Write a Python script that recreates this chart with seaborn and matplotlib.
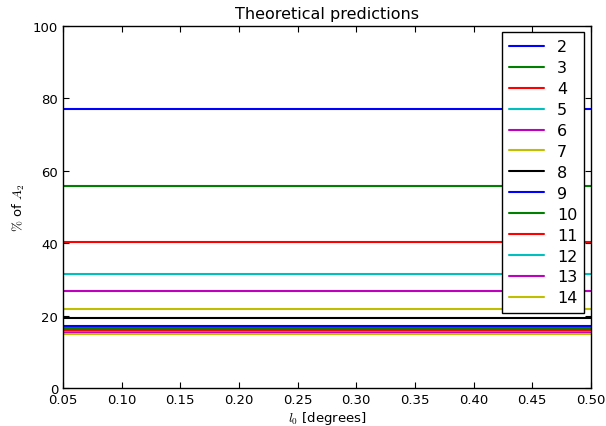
import matplotlib
matplotlib.use("Agg")
import matplotlib.pyplot as plt
import seaborn as sns
import numpy as np
import pandas as pd

# number of components and predicted share of A_2 (%)
n_values = ["2", "3", "4", "5", "6", "7", "8", "9", "10", "11", "12", "13", "14"]
share_a2 = [77.1, 55.8, 40.3, 31.5, 26.7, 21.8, 19.3, 17.1, 16.6, 16.1, 15.6, 15.2, 14.9]
l0_deg = [0.05, 0.50]
colours = ["b", "g", "r", "c", "m", "y", "k"]

sns.set_style("ticks")
plt.rcParams["mathtext.fontset"] = "cm"
plt.rcParams["font.family"] = ["DejaVu Sans"]
for key in ["text.color", "axes.labelcolor", "xtick.color", "ytick.color"]:
    plt.rcParams[key] = "black"

rows = []
for n, share in zip(n_values, share_a2):
    for l0 in l0_deg:
        rows.append({"l0": l0, "share": share, "n": n})
df = pd.DataFrame(rows)

palette = [colours[i % len(colours)] for i in range(len(n_values))]

fig = plt.figure(figsize=(6.06, 4.27), dpi=100)
ax = fig.add_axes([0.104, 0.089, 0.871, 0.848])
sns.lineplot(data=df, x="l0", y="share", hue="n", hue_order=n_values,
             palette=palette, linewidth=1.5, ax=ax, legend=False)

ax.set_xlim(0.05, 0.50)
ax.set_ylim(0, 100)
ax.set_xticks(np.arange(0.05, 0.501, 0.05))
ax.set_xticklabels([f"{t:.2f}" for t in np.arange(0.05, 0.501, 0.05)])
ax.set_yticks([0, 20, 40, 60, 80, 100])
ax.tick_params(direction="in", top=True, right=True, length=4, labelsize=9.5,
               colors="black")
for spine in ax.spines.values():
    spine.set_linewidth(1.0)
    spine.set_color("black")

ax.set_title("Theoretical predictions", fontsize=11.5)
ax.set_xlabel(r"$l_0$ [degrees]", fontsize=9.5, labelpad=2)
ax.set_ylabel(r"$\%$ of $A_2$", fontsize=9.5)

handles = ax.get_lines()
leg = ax.legend(handles, n_values, loc="upper right", fontsize=11.5,
                fancybox=False, frameon=True, labelspacing=0.37,
                handlelength=2.2, borderaxespad=0.4, borderpad=0.45)
leg.get_frame().set_edgecolor("black")
leg.get_frame().set_linewidth(1.0)
leg.get_frame().set_alpha(1)

fig.savefig("out.png", dpi=100)
